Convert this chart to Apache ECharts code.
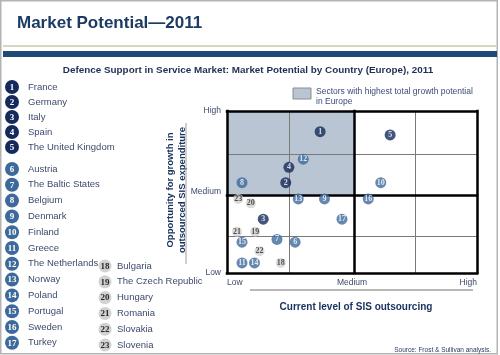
<!DOCTYPE html>
<html><head><meta charset="utf-8">
<script src="https://cdn.jsdelivr.net/npm/echarts@6/dist/echarts.min.js"></script>
<style>html,body{margin:0;padding:0;background:#fff}#c{width:500px;height:355px}</style>
</head><body><div id="c"></div>
<script>
// ---- data ----
const countries = ["France","Germany","Italy","Spain","The United Kingdom","Austria","The Baltic States","Belgium","Denmark","Finland","Greece","The Netherlands","Norway","Poland","Portugal","Sweden","Turkey","Bulgaria","The Czech Republic","Hungary","Romania","Slovakia","Slovenia"];
const tiers = ["major","major","major","major","major","mid","mid","mid","mid","mid","mid","mid","mid","mid","mid","mid","mid","minor","minor","minor","minor","minor","minor"];
// current level of SIS outsourcing (0 = low, 2 = medium, 4 = high)
const outsourcing = [1.49,0.94,0.58,0.99,2.61,1.09,0.80,0.24,1.56,2.46,0.24,1.22,1.14,0.44,0.24,2.26,1.84,0.86,0.45,0.38,0.16,0.52,0.18];
// opportunity for growth in outsourced SIS expenditure (0 = low, 2 = medium, 4 = high)
const opportunity = [3.49,2.23,1.33,2.61,3.41,0.76,0.83,2.23,1.83,2.23,0.25,2.81,1.83,0.25,0.76,1.83,1.33,0.25,1.02,1.72,1.02,0.54,1.83];
const levelLabels = ["Low","Medium","High"];
const xThin = [0.99, 3.01];
const xThick = [2.03];
const yThin = [0.91, 2.94];
const yThick = [1.93];

// ---- styles ----
const tierFill = {major:'#152a5c', mid:'#3d6a9b', minor:'#d2d2d2'};
const tierText = {major:'#ffffff', mid:'#ffffff', minor:'#2a2a2a'};
const SANS = '"Liberation Sans", Arial, sans-serif';
const SERIF = '"Liberation Serif", "DejaVu Serif", serif';
const legendColor = '#3d4a6b';
const navy = '#1c3560';

const chart = echarts.init(document.getElementById('c'), null, {renderer:'canvas'});

// legend graphics built from arrays
const legendEls = [];
countries.forEach((name, i) => {
  const t = tiers[i];
  let cx, cy, tx, r;
  if (i < 5) { cx = 12; cy = 87 + i * 15; tx = 28; r = 7; }
  else if (i < 17) { cx = 12; cy = 169 + (i - 5) * 15.8; tx = 28; r = 7; }
  else { cx = 105; cy = 266 + (i - 17) * 15.8; tx = 117; r = 6.5; }
  legendEls.push({type:'circle', shape:{cx:cx, cy:cy, r:r}, style:{fill:tierFill[t]}, z:10});
  legendEls.push({type:'text', x:cx, y:cy+0.5, z:11, style:{text:String(i+1), fill:tierText[t], font:'bold 9px ' + SERIF, textAlign:'center', textVerticalAlign:'middle'}});
  legendEls.push({type:'text', x:tx, y:cy, z:11, style:{text:name, fill:legendColor, font:'9.5px ' + SANS, textAlign:'left', textVerticalAlign:'middle'}});
});

const pointData = countries.map((name, i) => ({
  name: name,
  value: [outsourcing[i], opportunity[i]],
  symbolSize: tiers[i] === 'minor' ? 10 : 11,
  itemStyle: {color: tierFill[tiers[i]]},
  label: {color: tierText[tiers[i]]}
}));

function vLines(arr){ return arr.map(v => ({xAxis: v})); }
function hLines(arr){ return arr.map(v => ({yAxis: v})); }

const option = {
  animation: false,
  backgroundColor: '#ffffff',
  grid: {left: 227, top: 111, width: 250, height: 162, show: false},
  xAxis: {
    type: 'value', min: 0, max: 4, interval: 2,
    axisLine: {show: false}, axisTick: {show: false}, splitLine: {show: false},
    axisLabel: {formatter: v => levelLabels[v / 2], color: legendColor, fontSize: 8.5, fontFamily: SANS, margin: 5, alignMinLabel: 'left', alignMaxLabel: 'right'}
  },
  yAxis: {
    type: 'value', min: 0, max: 4, interval: 2,
    axisLine: {show: false}, axisTick: {show: false}, splitLine: {show: false},
    axisLabel: {formatter: v => levelLabels[v / 2], color: legendColor, fontSize: 8.5, fontFamily: SANS, margin: 6}
  },
  series: [
    {
      type: 'scatter', data: [], z: 1, silent: true, clip: false,
      markArea: {silent: true, itemStyle: {color: '#b9c5d3'}, data: [[{xAxis: 0, yAxis: yThick[0]}, {xAxis: xThick[0], yAxis: 4}]]}
    },
    {
      type: 'scatter', data: [], z: 2, silent: true, clip: false,
      markLine: {silent: true, symbol: 'none', label: {show: false}, lineStyle: {color: '#7a7a7a', width: 1, type: 'solid'},
        data: vLines(xThin).concat(hLines(yThin))}
    },
    {
      type: 'scatter', data: [], z: 3, silent: true, clip: false,
      markLine: {silent: true, symbol: 'none', label: {show: false}, lineStyle: {color: '#000000', width: 2.5, type: 'solid', cap: 'square'},
        data: vLines(xThick.concat([0, 4])).concat(hLines(yThick.concat([0, 4])))}
    },
    {
      type: 'scatter', z: 5, clip: false,
      data: pointData,
      label: {show: true, position: 'inside', formatter: p => String(p.dataIndex + 1), fontSize: 8, fontWeight: 'bold', fontFamily: SERIF}
    }
  ],
  graphic: [
    {type:'rect', shape:{x:0.75, y:0.75, width:496.5, height:353}, style:{fill:null, stroke:'#b3b3b3', lineWidth:1.5}},
    {type:'line', shape:{x1:3, y1:46, x2:497, y2:46}, style:{stroke:'#d9d6bf', lineWidth:2}},
    {type:'rect', shape:{x:3, y:51, width:494, height:6}, style:{fill:'#1f4a78'}},
    {type:'text', x:17, y:23, style:{text:'Market Potential\u20142011', font:'bold 17px ' + SANS, fill:'#1c3b63', textVerticalAlign:'middle'}},
    {type:'text', x:248, y:70, style:{text:'Defence Support in Service Market: Market Potential by Country (Europe), 2011', font:'bold 9.9px ' + SANS, fill:'#1f2f52', textAlign:'center', textVerticalAlign:'middle'}},
    {type:'rect', shape:{x:293, y:88, width:18, height:11}, style:{fill:'#b9c5d3', stroke:'#8d8d8d', lineWidth:1}},
    {type:'text', x:316, y:87, style:{text:'Sectors with highest total growth potential\nin Europe', font:'8.5px ' + SANS, lineHeight:10, fill:'#3b4b7b'}},
    {type:'text', x:176, y:190, rotation:Math.PI/2, style:{text:'Opportunity for growth in\noutsourced SIS expenditure', font:'bold 9.5px ' + SANS, lineHeight:12, fill:navy, textAlign:'center', textVerticalAlign:'middle'}},
    {type:'line', shape:{x1:186, y1:123, x2:186, y2:264}, style:{stroke:'#a0a0a0', lineWidth:1}},
    {type:'line', shape:{x1:250, y1:290, x2:473, y2:290}, style:{stroke:'#a0a0a0', lineWidth:1.5}},
    {type:'text', x:356, y:307, style:{text:'Current level of SIS outsourcing', font:'bold 10px ' + SANS, fill:navy, textAlign:'center', textVerticalAlign:'middle'}},
    {type:'text', x:491, y:350, style:{text:'Source: Frost & Sullivan analysis.', font:'6.5px ' + SANS, fill:'#2b3b60', textAlign:'right', textVerticalAlign:'middle'}}
  ].concat(legendEls)
};
chart.setOption(option);
</script>
</body></html>
